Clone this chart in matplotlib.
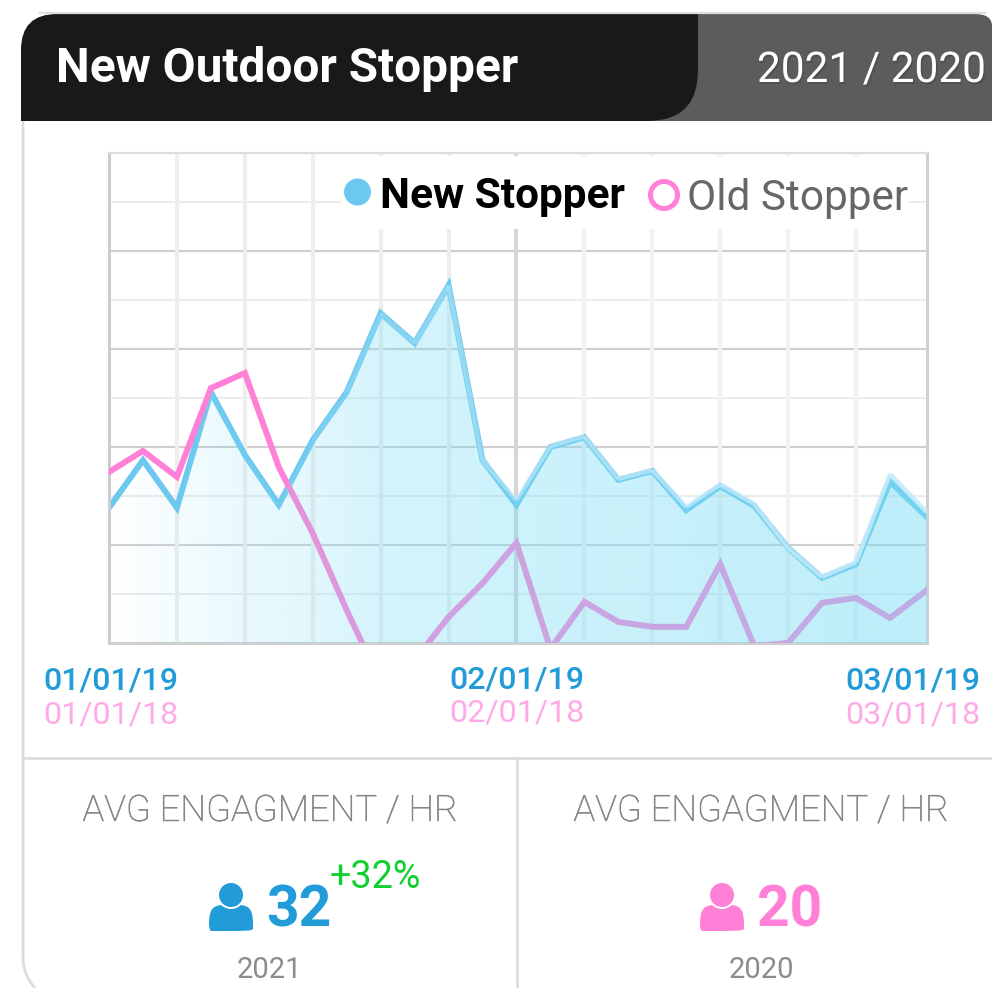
import numpy as np
import matplotlib
matplotlib.use("Agg")
import matplotlib.pyplot as plt
import matplotlib.patheffects as pe
from matplotlib.collections import LineCollection
from matplotlib.patches import Circle, PathPatch
from matplotlib.path import Path

plt.rcParams["font.family"] = ["Roboto", "DejaVu Sans"]

# Values, on a 0-100 scale (old series runs below the floor).
new_stopper = [27.6, 37.3, 27.6, 51.2, 38.4, 28.2, 41.4, 51.2, 67.3, 61.2, 73.0, 37.3, 28.2,
               40.0, 42.0, 33.3, 35.1, 27.1, 32.0, 28.0, 19.4, 13.3, 16.1, 32.9, 25.7]
new_area = [27.6, 37.3, 27.6, 51.2, 38.4, 28.2, 41.4, 51.2, 67.3, 61.2, 73.0, 37.3, 29.2,
            40.2, 42.2, 33.5, 35.3, 27.8, 32.4, 28.4, 19.4, 13.5, 16.5, 34.5, 26.7]
old_stopper = [34.9, 39.2, 33.9, 52.0, 55.1, 35.9, 22.4, 6.7, -8.0, -3.5, 5.3, 12.2, 20.4,
               -1.2, 8.4, 4.3, 3.3, 3.3, 16.1, -0.6, 0.0, 8.2, 9.2, 5.1, 10.8]
# the last sample sits a touch further out than the regular spacing
x_pos = [0, 1, 2, 3, 4, 5, 6, 7, 8, 9, 10, 11, 12, 13, 14, 15, 16, 17, 18, 19, 20, 21, 22, 23, 24.09]
labels_new = ["01/01/19", "02/01/19", "03/01/19"]
labels_old = ["01/01/18", "02/01/18", "03/01/18"]

BLUE = "#229cd9"
PINK = "#ff80d6"
W, H = 992, 988


def person(ov, cx, color):
    # icon drawn around its centre column
    x0, x1 = cx - 22, cx + 22
    verts = [(x0, 925), (x0, 912), (x0 + 2, 905), (x0 + 14, 905), (x1 - 14, 905), (x1 - 2, 905),
             (x1, 912), (x1, 925), (x1, 929), (x1 - 2, 931), (x1 - 6, 931), (x0 + 6, 931),
             (x0 + 2, 931), (x0, 929), (x0, 925), (x0, 925)]
    codes = [Path.MOVETO, Path.CURVE4, Path.CURVE4, Path.CURVE4, Path.LINETO, Path.CURVE4, Path.CURVE4,
             Path.CURVE4, Path.LINETO, Path.CURVE4, Path.CURVE4, Path.CURVE4, Path.LINETO,
             Path.CURVE4, Path.CURVE4, Path.CURVE4]
    ov.add_patch(PathPatch(Path(verts, codes), fc=color, ec="none"))
    ov.add_patch(Circle((cx, 895), 14, fc="white", ec="none"))
    ov.add_patch(Circle((cx, 895), 12, fc=color, ec="none"))


def main():
    fig = plt.figure(figsize=(W / 100, H / 100), dpi=100, facecolor="white")
    ax = fig.add_axes([109 / W, 1 - 643 / H, (927 - 109) / W, (643 - 153) / H])
    x = np.array(x_pos)

    # grid
    for i, v in enumerate(range(10, 100, 10)):
        ax.axhline(v, color="#cfcfcf" if i % 2 == 1 else "#ececec", lw=1.5, zorder=1)
    for i in range(2, 24, 2):
        c = "#d6d6d6" if i == 12 else ("#eeeeee" if i < 12 else "#f2f2f2")
        ax.axvline(i, color=c, lw=3, zorder=1)

    ax.plot(x, new_stopper, color="#6cc8ef", lw=4.3, solid_joinstyle="miter", zorder=2)
    ax.plot(x, old_stopper, color=PINK, lw=4.3, solid_joinstyle="miter", zorder=3)

    # area with a left to right fade, over the grid and the pink line
    poly = ax.fill_between(x, new_area, 0, facecolor="none", edgecolor="none")
    fx = np.linspace(0, 1, 400)
    alpha = np.interp(fx, [0, 0.025, 0.082, 0.165, 0.247, 0.331, 0.498, 1.0],
                      [0, 0.02, 0.09, 0.16, 0.22, 0.32, 0.38, 0.5])
    rgba = np.ones((1, 400, 4))
    rgba[..., 0] = 123 / 255
    rgba[..., 1] = 221 / 255
    rgba[..., 2] = 245 / 255
    rgba[..., 3] = alpha
    im = ax.imshow(rgba, extent=[0, 24.09, 0, 100], aspect="auto", interpolation="bilinear", zorder=4)
    im.set_clip_path(poly.get_paths()[0], ax.transData)

    # lighter stroke along the top of the area
    pts = np.column_stack([x, new_area])
    segs = np.stack([pts[:-1], pts[1:]], axis=1)
    seg_alpha = np.interp(x[:-1], [0, 5, 12, 23], [0, 0.05, 0.6, 0.9])
    seg_col = [(0.78, 0.92, 0.98, a) for a in seg_alpha]
    ax.add_collection(LineCollection(segs, colors=seg_col, linewidths=3.2, zorder=5, capstyle="butt"))

    ax.set_xlim(0, 24.09)
    ax.set_ylim(0, 100)
    ax.set_xticks([])
    ax.set_yticks([])
    ax.spines["left"].set(color="#cccccc", lw=2.2)
    ax.spines["bottom"].set(color="#cfcfcf", lw=2.2)
    ax.spines["top"].set(color="#dddddd", lw=1.6)
    ax.spines["right"].set(color="#d0d0d0", lw=2.2)

    # everything else on a pixel-coordinate overlay
    ov = fig.add_axes([0, 0, 1, 1], facecolor="none")
    ov.set_xlim(0, W)
    ov.set_ylim(H, 0)
    ov.axis("off")

    # card border
    ov.plot([40, 985], [13.5, 13.5], color="#dedede", lw=1.6)
    border = Path([(23, 121), (23, 958), (23, 975), (35, 988)],
                  [Path.MOVETO, Path.LINETO, Path.CURVE3, Path.CURVE3])
    ov.add_patch(PathPatch(border, fc="none", ec="#dddddd", lw=2.0))
    ov.plot([23, W], [758, 758], color="#dddddd", lw=2.0)
    ov.plot([517, 517], [758, H], color="#dddddd", lw=2.0)

    # header
    grey = Path([(640, 14), (975, 14), (992, 14), (992, 26), (992, 121), (640, 121), (640, 14)],
                [Path.MOVETO, Path.LINETO, Path.CURVE3, Path.CURVE3, Path.LINETO, Path.LINETO, Path.CLOSEPOLY])
    ov.add_patch(PathPatch(grey, fc="#5c5c5c", ec="none"))
    black = Path([(21, 121), (21, 50), (21, 14), (57, 14), (698, 14), (698, 70), (698, 121), (647, 121), (21, 121)],
                 [Path.MOVETO, Path.LINETO, Path.CURVE3, Path.CURVE3, Path.LINETO, Path.LINETO,
                  Path.CURVE3, Path.CURVE3, Path.CLOSEPOLY])
    ov.add_patch(PathPatch(black, fc="#191919", ec="none"))
    ov.text(56, 82, "New Outdoor Stopper", color="white", fontsize=34.4, fontweight="bold", va="baseline")
    ov.text(757, 82, "2021 / 2020", color="white", fontsize=30.5, va="baseline",
            path_effects=[pe.withSimplePatchShadow(offset=(1, -1.5), shadow_rgbFace="#333333", alpha=0.3)])

    # legend, on a white block that hides the grid
    ov.fill_between([341, 908], 156, 229, color="white", lw=0)
    ov.add_patch(Circle((357.5, 192), 13.5, fc="#6cc8ef", ec="none"))
    ov.text(380, 208, "New Stopper", color="black", fontsize=30.5, fontweight="bold", va="baseline")
    ov.add_patch(Circle((664, 195), 13.5, fc="white", ec=PINK, lw=3.6))
    ov.text(687, 210, "Old Stopper", color="#666666", fontsize=30.5, va="baseline")

    # date labels
    for label, px, py in zip(labels_new, [43, 449, 845], [689, 688, 689]):
        ov.text(px, py, label, color=BLUE, fontsize=23.2, fontweight="medium", va="baseline")
    for label, px, py in zip(labels_old, [43, 449, 845], [723, 721, 723]):
        ov.text(px, py, label, color="#ffaae6", fontsize=23.2, va="baseline")

    # stat panels
    for cx in [270, 761]:
        ov.text(cx, 821, "AVG ENGAGMENT / HR", color="#858585", fontsize=26.2, fontweight="light",
                ha="center", va="baseline",
                path_effects=[pe.withStroke(linewidth=0.35, foreground="#858585")])
    person(ov, 231, BLUE)
    ov.text(266, 926, "32", color=BLUE, fontsize=41, fontweight="bold", va="baseline")
    ov.text(330, 888, "+32%", color="#0fd02f", fontsize=27.2, va="baseline")
    ov.text(269, 978, "2021", color="#8c8c8c", fontsize=21, ha="center", va="baseline")
    person(ov, 722, PINK)
    ov.text(757, 926, "20", color=PINK, fontsize=41, fontweight="bold", va="baseline")
    ov.text(761, 978, "2020", color="#8c8c8c", fontsize=21, ha="center", va="baseline")

    fig.savefig("out.png", dpi=100, facecolor="white")


if __name__ == "__main__":
    main()
